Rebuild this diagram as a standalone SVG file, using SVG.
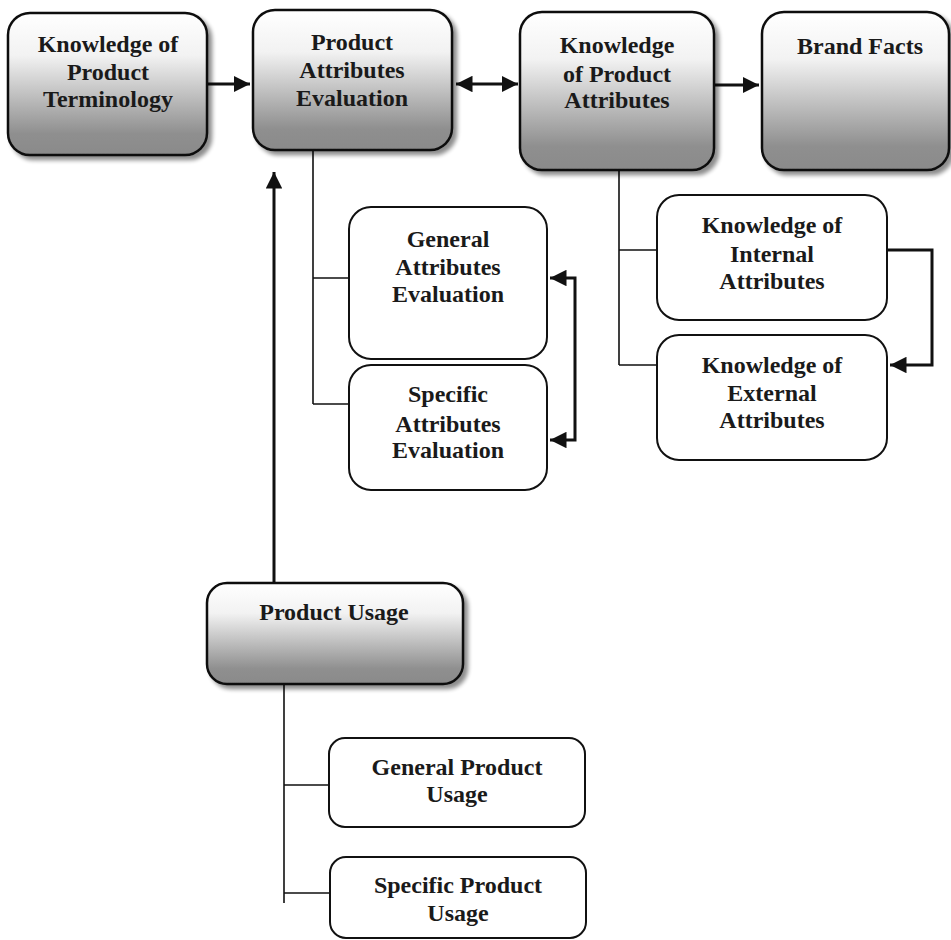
<svg xmlns="http://www.w3.org/2000/svg" width="951" height="940" viewBox="0 0 951 940">
<defs>
<linearGradient id="g" x1="0" y1="0" x2="0" y2="1">
<stop offset="0" stop-color="#ffffff"/>
<stop offset="0.3" stop-color="#f2f2f2"/>
<stop offset="0.85" stop-color="#8f8f8f"/>
<stop offset="1" stop-color="#8a8a8a"/>
</linearGradient>
<filter id="sh" x="-10%" y="-10%" width="130%" height="130%">
<feGaussianBlur in="SourceAlpha" stdDeviation="2"/>
<feOffset dx="4" dy="4" result="b"/>
<feComponentTransfer><feFuncA type="linear" slope="0.45"/></feComponentTransfer>
<feMerge><feMergeNode/><feMergeNode in="SourceGraphic"/></feMerge>
</filter>
<marker id="ah" viewBox="0 0 10 10" refX="10" refY="5" markerWidth="5.5" markerHeight="5.5" markerUnits="strokeWidth" orient="auto-start-reverse">
<path d="M0,0 L10,5 L0,10 z" fill="#111"/>
</marker>
<style>
.main{fill:url(#g);stroke:#111;stroke-width:2.5;filter:url(#sh)}
.sub{fill:#fff;stroke:#111;stroke-width:2}
text{font-family:"Liberation Serif","Times New Roman",serif;font-weight:bold;font-size:24px;fill:#1a1a1a;text-anchor:middle}
.thin{fill:none;stroke:#111;stroke-width:1.6}
.thick{fill:none;stroke:#111;stroke-width:3}
</style>
</defs>
<rect width="951" height="940" fill="#fff"/>

<g id="connectors">
<path class="thick" d="M207,84 L250,84" marker-end="url(#ah)"/>
<path class="thick" d="M456,84 L518,84" marker-start="url(#ah)" marker-end="url(#ah)"/>
<path class="thick" d="M714,85 L759,85" marker-end="url(#ah)"/>
<path class="thick" d="M274,583 L274,172" marker-end="url(#ah)"/>
<path class="thin" d="M313,150 L313,404 M313,278 L349,278 M313,404 L349,404"/>
<path class="thick" d="M550,278 L575,278 L575,440 L550,440" marker-start="url(#ah)" marker-end="url(#ah)"/>
<path class="thin" d="M619,170 L619,365 M619,250 L657,250 M619,365 L657,365"/>
<path class="thick" d="M887,250 L932,250 L932,365 L890,365" marker-end="url(#ah)"/>
<path class="thin" d="M284,681 L284,903 M284,785 L329,785 M284,893 L329,893"/>
</g>

<g id="n-terminology">
<rect class="main" x="8" y="13" width="199" height="142" rx="22"/>
<text x="108" y="52">Knowledge of</text>
<text x="108" y="80">Product</text>
<text x="108" y="107">Terminology</text>
</g>

<g id="n-attr-eval">
<rect class="main" x="253" y="10" width="199" height="140" rx="22"/>
<text x="352" y="50">Product</text>
<text x="352" y="78">Attributes</text>
<text x="352" y="106">Evaluation</text>
</g>

<g id="n-knowledge-attr">
<rect class="main" x="520" y="12" width="194" height="158" rx="22"/>
<text x="617" y="53">Knowledge</text>
<text x="617" y="82">of Product</text>
<text x="617" y="108">Attributes</text>
</g>

<g id="n-brand">
<rect class="main" x="762" y="12" width="187" height="158" rx="22"/>
<text x="860" y="54">Brand Facts</text>
</g>

<g id="n-general-eval">
<rect class="sub" x="349" y="207" width="198" height="152" rx="22"/>
<text x="448" y="247">General</text>
<text x="448" y="275">Attributes</text>
<text x="448" y="302">Evaluation</text>
</g>

<g id="n-specific-eval">
<rect class="sub" x="349" y="365" width="198" height="125" rx="22"/>
<text x="448" y="402">Specific</text>
<text x="448" y="432">Attributes</text>
<text x="448" y="458">Evaluation</text>
</g>

<g id="n-internal">
<rect class="sub" x="657" y="195" width="230" height="125" rx="22"/>
<text x="772" y="233">Knowledge of</text>
<text x="772" y="262">Internal</text>
<text x="772" y="289">Attributes</text>
</g>

<g id="n-external">
<rect class="sub" x="657" y="335" width="230" height="125" rx="22"/>
<text x="772" y="373">Knowledge of</text>
<text x="772" y="401">External</text>
<text x="772" y="428">Attributes</text>
</g>

<g id="n-usage">
<rect class="main" x="207" y="583" width="256" height="101" rx="20"/>
<text x="334" y="620">Product Usage</text>
</g>

<g id="n-general-usage">
<rect class="sub" x="329" y="738" width="256" height="89" rx="16"/>
<text x="457" y="775">General Product</text>
<text x="457" y="802">Usage</text>
</g>

<g id="n-specific-usage">
<rect class="sub" x="330" y="857" width="256" height="81" rx="16"/>
<text x="458" y="893">Specific Product</text>
<text x="458" y="921">Usage</text>
</g>
</svg>
